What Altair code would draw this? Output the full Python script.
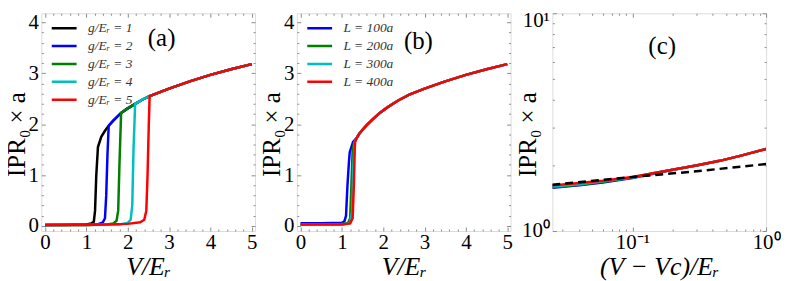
import altair as alt
import pandas as pd

FONT = "Liberation Serif"
GRAY = "#8c8c8c"
W, H = 215, 219

# ---------------- panel (a): IPR vs V for several g ----------------
a_series = ["g/Eᵣ = 1", "g/Eᵣ = 2", "g/Eᵣ = 3", "g/Eᵣ = 4", "g/Eᵣ = 5"]
a_colors = ["#000000", "#0000ff", "#008000", "#00bfbf", "#ff0000"]
a_g1_V = [0, 0.5, 1.0, 1.12, 1.18, 1.21, 1.24, 1.28]
a_g1_y = [0.02, 0.02, 0.03, 0.05, 0.08, 0.3, 1.0, 1.55]
a_g2_V = [0, 1.0, 1.3, 1.4, 1.45, 1.48, 1.51, 1.54]
a_g2_y = [0.02, 0.03, 0.04, 0.07, 0.15, 0.6, 1.4, 1.97]
a_g3_V = [0, 1.0, 1.5, 1.65, 1.73, 1.77, 1.8, 1.84]
a_g3_y = [0.02, 0.02, 0.03, 0.05, 0.1, 0.3, 1.2, 2.22]
a_g4_V = [0, 1.0, 1.8, 2.0, 2.07, 2.11, 2.14, 2.18]
a_g4_y = [0.02, 0.02, 0.03, 0.06, 0.12, 0.4, 1.5, 2.40]
a_g5_V = [0, 1.0, 2.0, 2.3, 2.4, 2.45, 2.48, 2.51, 2.53]
a_g5_y = [0.02, 0.02, 0.04, 0.07, 0.12, 0.3, 1.0, 2.0, 2.55]
a_env_V = [1.36, 1.45, 1.54, 1.65, 1.84, 2.0, 2.18, 2.35, 2.53, 2.75, 3.0, 3.5, 4.0, 4.5, 5.0]
a_env_y = [1.75, 1.87, 1.97, 2.07, 2.22, 2.31, 2.40, 2.48, 2.55, 2.62, 2.70, 2.84, 2.97, 3.08, 3.18]

# ---------------- panel (b): IPR vs V for several L ----------------
b_series = ["L = 100a", "L = 200a", "L = 300a", "L = 400a"]
b_colors = ["#0000ff", "#008000", "#00bfbf", "#ff0000"]
b_L1_V = [0, 0.5, 1.0, 1.06, 1.1, 1.135, 1.17, 1.19, 1.23, 1.27]
b_L1_y = [0.05, 0.05, 0.06, 0.09, 0.2, 0.8, 1.25, 1.45, 1.55, 1.65]
b_L2_V = [0, 1.0, 1.15, 1.2, 1.23, 1.26, 1.3]
b_L2_y = [0.03, 0.04, 0.06, 0.15, 0.8, 1.5, 1.65]
b_L3_V = [0, 1.0, 1.2, 1.25, 1.28, 1.31]
b_L3_y = [0.03, 0.03, 0.06, 0.3, 1.2, 1.65]
b_L4_V = [0, 1.0, 1.2, 1.26, 1.29, 1.31, 1.32]
b_L4_y = [0.03, 0.03, 0.05, 0.15, 0.8, 1.5, 1.65]
b_env_V = [1.36, 1.42, 1.5, 1.6, 1.75, 1.9, 2.1, 2.35, 2.63, 3.0, 3.5, 4.0, 4.5, 5.0]
b_env_y = [1.73, 1.81, 1.89, 1.98, 2.10, 2.21, 2.33, 2.46, 2.58, 2.70, 2.84, 2.97, 3.08, 3.18]

# ---------------- panel (c): log-log near the transition ----------------
c_x = [0.0252, 0.04, 0.06, 0.1, 0.15, 0.2, 0.3, 0.45, 0.65, 1.0]
c_L1_y = [1.58, 1.62, 1.67, 1.75, 1.84, 1.91, 2.0, 2.1, 2.22, 2.38]
c_L2_y = [1.59, 1.63, 1.68, 1.76, 1.85, 1.91, 2.0, 2.1, 2.22, 2.38]
c_L3_y = [1.60, 1.64, 1.69, 1.76, 1.85, 1.91, 2.0, 2.1, 2.22, 2.38]
c_L4_y = [1.62, 1.66, 1.70, 1.77, 1.85, 1.91, 2.0, 2.1, 2.22, 2.38]
c_fit_x = [0.0252, 0.1, 0.3, 1.0]
c_fit_y = [1.63, 1.77, 1.88, 2.03]


def build(series, lows, env_V, env_y):
    rows = []
    for name, (Vs, ys) in zip(series, lows):
        pts = list(zip(Vs, ys)) + [(v, y) for v, y in zip(env_V, env_y) if v > Vs[-1]]
        for i, (v, y) in enumerate(pts):
            rows.append({"s": name, "V": v, "y": y, "i": i})
    return pd.DataFrame(rows)


df_a = build(a_series, [(a_g1_V, a_g1_y), (a_g2_V, a_g2_y), (a_g3_V, a_g3_y),
                        (a_g4_V, a_g4_y), (a_g5_V, a_g5_y)], a_env_V, a_env_y)
df_b = build(b_series, [(b_L1_V, b_L1_y), (b_L2_V, b_L2_y), (b_L3_V, b_L3_y),
                        (b_L4_V, b_L4_y)], b_env_V, b_env_y)
rows = []
for name, ys in zip(b_series, [c_L1_y, c_L2_y, c_L3_y, c_L4_y]):
    for i, (v, y) in enumerate(zip(c_x, ys)):
        rows.append({"s": name, "V": v, "y": y, "i": i})
df_c = pd.DataFrame(rows)
df_fit = pd.DataFrame({"V": c_fit_x, "y": c_fit_y})
one = pd.DataFrame({"k": [0]})


def tick_layers(df, xs, ys, xmaj, xmin, ymaj, ymin):
    base = alt.Chart(df).mark_line(strokeOpacity=0)
    out = []
    for vals, size in [(xmaj, 4), (xmin, 2)]:
        for orient in ["top", "bottom"]:
            out.append(base.encode(
                x=alt.X("V:Q", scale=xs, axis=alt.Axis(
                    orient=orient, offset=-H, values=vals, labels=False, domain=False,
                    tickSize=size, tickColor=GRAY, tickWidth=1, title=None, grid=False)),
                y=alt.Y("y:Q", scale=ys, axis=None)))
    for vals, size in [(ymaj, 4), (ymin, 2)]:
        for orient in ["left", "right"]:
            out.append(base.encode(
                y=alt.Y("y:Q", scale=ys, axis=alt.Axis(
                    orient=orient, offset=-W, values=vals, labels=False, domain=False,
                    tickSize=size, tickColor=GRAY, tickWidth=1, title=None, grid=False)),
                x=alt.X("V:Q", scale=xs, axis=None)))
    return out


def label_axis_x(title, values, expr=None):
    kw = dict(values=values, ticks=False, tickSize=0, domain=False, grid=False,
              labelFont=FONT, labelFontSize=21, labelColor="#000", labelPadding=1,
              title=title, titleFont=FONT, titleFontSize=26, titleFontWeight="normal",
              titleFontStyle="italic", titleColor="#000", titleY=36,
              titleBaseline="middle", labelFlush=False)
    if expr:
        kw["labelExpr"] = expr
    return alt.Axis(**kw)


def label_axis_y(values, expr=None, top_offset=0):
    kw = dict(values=values, ticks=False, tickSize=0, domain=False, grid=False,
              labelFont=FONT, labelFontSize=21, labelColor="#000", labelPadding=3,
              title="IPR₀ × a", titleFont=FONT, titleFontSize=25, titleFontWeight="normal",
              titleColor="#000", titleX=-25, titleY=H / 2 + 12, titleAngle=-90,
              titleBaseline="middle", titleAlign="center", labelFlush=False)
    if expr:
        kw["labelExpr"] = expr
    if top_offset:
        kw["labelOffset"] = {"condition": {"test": "datum.value >= 10", "value": top_offset}, "value": 0}
    return alt.Axis(**kw)


def legend():
    return alt.Legend(orient="none", legendX=9, legendY=7, title=None,
                      symbolType="stroke", symbolSize=625, symbolStrokeWidth=2.5,
                      labelFont=FONT, labelFontSize=13.5, labelFontStyle="italic",
                      labelColor="#333", labelOffset=10, clipHeight=16, rowPadding=2,
                      padding=0)


lin_x = alt.Scale(domain=[-0.09, 5.08], nice=False, zero=False)
lin_y = alt.Scale(domain=[-0.1, 4.18], nice=False, zero=False)
x_major = [0, 1, 2, 3, 4, 5]
x_minor = [round(0.2 * k, 1) for k in range(26) if k % 5]
y_major = [0, 1, 2, 3, 4]
y_minor = [round(0.2 * k, 1) for k in range(21) if k % 5]


def tag_text(tag, tx, ty):
    return alt.Chart(one).mark_text(text=tag, font=FONT, fontSize=25, color="#000").encode(
        x=alt.XDatum(tx, axis=None), y=alt.YDatum(ty, axis=None))


def lin_panel(df, series, colors, tag, tag_x, tag_y):
    lines = alt.Chart(df).mark_line(strokeWidth=2.5, clip=True).encode(
        x=alt.X("V:Q", scale=lin_x, axis=label_axis_x("V/Eᵣ", x_major)),
        y=alt.Y("y:Q", scale=lin_y, axis=label_axis_y(y_major)),
        color=alt.Color("s:N", scale=alt.Scale(domain=series, range=colors),
                        sort=series, legend=legend()),
        order="i:Q",
    )
    layers = [lines] + tick_layers(df, lin_x, lin_y, x_major, x_minor, y_major, y_minor) + [
        tag_text(tag, tag_x, tag_y)]
    return alt.layer(*layers).resolve_axis(x="independent", y="independent").properties(
        width=W, height=H)


pa = lin_panel(df_a, a_series, a_colors, "(a)", 2.82, 3.70)
pb = lin_panel(df_b, b_series, b_colors, "(b)", 2.85, 3.64)

log_x = alt.Scale(type="log", domain=[0.0252, 1], nice=False, zero=False)
log_y = alt.Scale(type="log", domain=[1, 10], nice=False, zero=False)
c_lines = alt.Chart(df_c).mark_line(strokeWidth=2.5, clip=True).encode(
    x=alt.X("V:Q", scale=log_x, axis=label_axis_x(
        "(V − Vc)/Eᵣ", [0.1, 1], "datum.value >= 1 ? '10⁰' : '10⁻¹'")),
    y=alt.Y("y:Q", scale=log_y, axis=label_axis_y(
        [1, 10], "datum.value >= 10 ? '10¹' : '10⁰'", top_offset=7)),
    color=alt.Color("s:N", scale=alt.Scale(domain=b_series, range=b_colors),
                    sort=b_series, legend=None),
    order="i:Q",
)
c_fit = alt.Chart(df_fit).mark_line(strokeWidth=2.5, color="#000", strokeDash=[8, 5], clip=True).encode(
    x=alt.X("V:Q", scale=log_x, axis=None), y=alt.Y("y:Q", scale=log_y, axis=None))
cx_major = [0.1, 1]
cx_minor = [0.03, 0.04, 0.05, 0.06, 0.07, 0.08, 0.09, 0.2, 0.3, 0.4, 0.5, 0.6, 0.7, 0.8, 0.9]
cy_major = [1, 10]
cy_minor = [2, 3, 4, 5, 6, 7, 8, 9]
pc = alt.layer(c_lines, c_fit, *tick_layers(df_fit, log_x, log_y, cx_major, cx_minor, cy_major, cy_minor),
               tag_text("(c)", 0.167, 7.07)).resolve_axis(x="independent", y="independent").properties(
    width=W, height=H)

chart = alt.hconcat(pa, pb, pc, spacing=42, bounds="flush").resolve_scale(
    color="independent").resolve_legend(color="independent").properties(
    padding={"left": -4.5, "top": -0.5, "right": 0, "bottom": 0}
).configure_view(stroke=GRAY, strokeWidth=1).configure(font=FONT)

chart.save("out.html", embed_options={"renderer": "svg", "actions": False})
